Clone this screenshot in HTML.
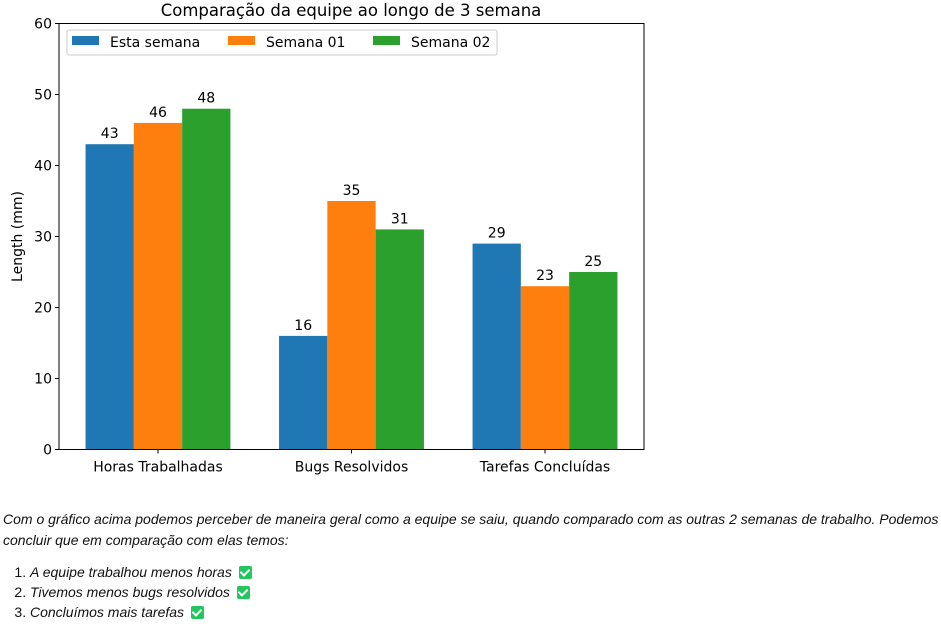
<!DOCTYPE html>
<html><head><meta charset="utf-8"><style>
body{margin:0;width:941px;height:624px;background:#fff;overflow:hidden;position:relative}
svg text{font-family:"DejaVu Sans","Liberation Sans",sans-serif;fill:#000}
#notes{position:absolute;left:3px;top:509px;font-family:"Liberation Sans",Arial,sans-serif;font-size:14px;color:#111;line-height:21px;width:938px}
#notes p{margin:0;font-style:italic}
#notes ol{margin:11px 0 0 0;padding-left:27px;line-height:20px}
#notes li i{font-style:italic}
.ck{display:inline-block;width:13px;height:13px;background:#22c55e;border-radius:2px;vertical-align:-2px;margin-left:3px;position:relative}
.ck:after{content:"";position:absolute;left:3px;top:1px;width:4px;height:7px;border:solid #fff;border-width:0 2px 2px 0;transform:rotate(45deg)}
</style></head><body>
<svg id="chart" width="941" height="500" style="position:absolute;left:0;top:0"></svg>
<div id="notes">
<p>Com o gráfico acima podemos perceber de maneira geral como a equipe se saiu, quando comparado com as outras 2 semanas de trabalho. Podemos concluir que em comparação com elas temos:</p>
<ol>
<li><i>A equipe trabalhou menos horas</i> <span class="ck"></span></li>
<li><i>Tivemos menos bugs resolvidos</i> <span class="ck"></span></li>
<li><i>Concluímos mais tarefas</i> <span class="ck"></span></li>
</ol></div>
<script>
const categories=["Horas Trabalhadas","Bugs Resolvidos","Tarefas Concluídas"];
const seriesNames=["Esta semana","Semana 01","Semana 02"];
const esta=[43,16,29];
const sem01=[46,35,23];
const sem02=[48,31,25];
const yTicks=[0,10,20,30,40,50,60];
const colors=["#1f77b4","#ff7f0e","#2ca02c"];
const series=[esta,sem01,sem02];
const svg=document.getElementById('chart');
const NS="http://www.w3.org/2000/svg";
const L=59,R=644,T=23.5,B=449.5,yMax=60;
const y=v=>B-(B-T)*v/yMax;
const bw=48.3;
const xc=i=>158+i*193.5;
function mk(tag,a,txt){const e=document.createElementNS(NS,tag);for(const k in a)e.setAttribute(k,a[k]);if(txt!==undefined)e.textContent=txt;svg.appendChild(e);return e;}
let e=mk('text',{x:351,y:16,'text-anchor':'middle','font-size':16.5},'Comparação da equipe ao longo de 3 semana');

series.forEach((s,si)=>s.forEach((v,i)=>{
 const cx=xc(i)+(si-1)*bw;
 let r=mk('rect',{x:cx-bw/2,y:y(v),width:bw,height:B-y(v),fill:colors[si]});
 
 let t=mk('text',{x:cx,y:y(v)-6,'text-anchor':'middle','font-size':14},String(v));
 
}));
yTicks.forEach(v=>{
 mk('line',{x1:L-4,x2:L,y1:y(v),y2:y(v),stroke:'#000'});
 let t=mk('text',{x:L-7,y:y(v)+5,'text-anchor':'end','font-size':14},String(v));
 
});
categories.forEach((c,i)=>{
 mk('line',{x1:xc(i),x2:xc(i),y1:B,y2:B+4,stroke:'#000'});
 let t=mk('text',{x:xc(i),y:B+22,'text-anchor':'middle','font-size':14},c);
 
});
let ax=mk('rect',{x:L,y:T,width:R-L,height:B-T,fill:'none',stroke:'#000','stroke-width':1});

let yt=mk('text',{x:0,y:0,'text-anchor':'middle','font-size':14,transform:`translate(22,${(T+B)/2}) rotate(-90)`},'Length (mm)');

let lg=mk('rect',{x:67,y:30,width:430,height:25,fill:'#fff',stroke:'#ccc',rx:2});

const lx=[72,228,373];
seriesNames.forEach((n,i)=>{
 mk('rect',{x:lx[i],y:36,width:27,height:9,fill:colors[i]});
 let t=mk('text',{x:lx[i]+38,y:47,'font-size':14},n);
 
});
</script>
</body></html>
